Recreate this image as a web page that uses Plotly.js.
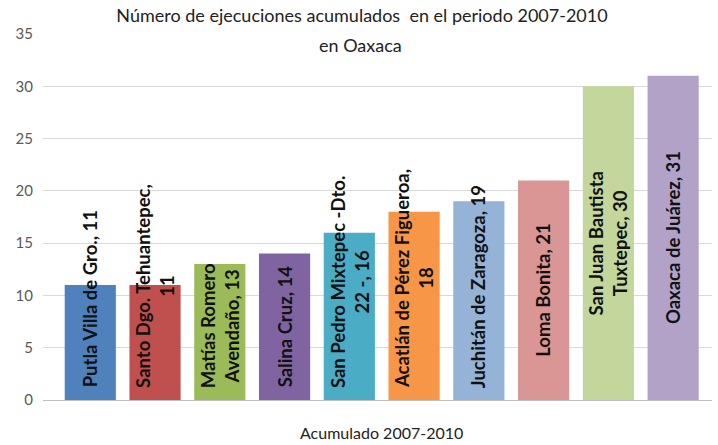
<!DOCTYPE html>
<html>
<head>
<meta charset="utf-8">
<script src="https://cdn.plot.ly/plotly-3.0.1.min.js"></script>
<style>html,body{margin:0;padding:0;background:#fff;}#chart{width:718px;height:445px;}</style>
</head>
<body>
<div id="chart"></div>
<script>
var categories = ["Putla Villa de Gro.", "Santo Dgo. Tehuantepec", "Matías Romero Avendaño", "Salina Cruz", "San Pedro Mixtepec -Dto. 22 -", "Acatlán de Pérez Figueroa", "Juchitán de Zaragoza", "Loma Bonita", "San Juan Bautista Tuxtepec", "Oaxaca de Juárez"];
var values = [11, 11, 13, 14, 16, 18, 19, 21, 30, 31];
var labels = ["Putla Villa de Gro., 11", "Santo Dgo. Tehuantepec,<br>11", "Matías Romero<br>Avendaño, 13", "Salina Cruz, 14", "San Pedro Mixtepec -Dto.<br>22 -, 16", "Acatlán de Pérez Figueroa,<br>18", "Juchitán de Zaragoza, 19", "Loma Bonita, 21", "San Juan Bautista<br>Tuxtepec, 30", "Oaxaca de Juárez, 31"];
var colors = ["#4F81BD", "#C0504D", "#9BBB59", "#8064A2", "#4BACC6", "#F79646", "#95B3D7", "#D99694", "#C3D69B", "#B3A2C7"];
var yTicks = [0, 5, 10, 15, 20, 25, 30, 35];
var titleLine1 = "Número de ejecuciones acumulados  en el periodo 2007-2010";
var titleLine2 = "en Oaxaca";
var xTitle = "Acumulado 2007-2010";

var W = 718, H = 445;
var margin = {l: 43, r: 6, t: 34, b: 45, pad: 0};
var yMax = 35;
var labelFont = {family: "Lato, sans-serif", size: 18.5, color: "#111", weight: "bold"};

// measure label length to keep rotated labels above the base
var cv = document.createElement("canvas").getContext("2d");
cv.font = "bold " + labelFont.size + "px Lato";
var plotH = H - margin.t - margin.b;
var pxPerUnit = plotH / yMax;
var annotations = labels.map(function (lab, i) {
  var lines = lab.split("<br>");
  var len = Math.max.apply(null, lines.map(function (s) { return cv.measureText(s).width; }));
  var centerPx = Math.max(values[i] / 2 * pxPerUnit, len / 2 + 12);
  return {
    x: categories[i], y: centerPx / pxPerUnit, xref: "x", yref: "y",
    text: lab, textangle: -90, showarrow: false, align: "center",
    xanchor: "center", yanchor: "middle", font: labelFont
  };
});
annotations.push({
  text: titleLine2, xref: "paper", yref: "paper", showarrow: false,
  x: (360 - margin.l) / (W - margin.l - margin.r), y: 1 + (margin.t - 45) / plotH,
  xanchor: "center", yanchor: "middle",
  font: {family: "Lato, sans-serif", size: 18, color: "#222"}
});
annotations.push({
  text: xTitle, xref: "paper", yref: "paper", showarrow: false,
  x: (381 - margin.l) / (W - margin.l - margin.r), y: -(432 - (H - margin.b)) / plotH,
  xanchor: "center", yanchor: "middle",
  font: {family: "Lato, sans-serif", size: 16, color: "#222"}
});

var trace = {
  type: "bar", x: categories, y: values,
  marker: {color: colors, line: {width: 0}},
  hoverinfo: "none"
};

var layout = {
  width: W, height: H, margin: margin,
  paper_bgcolor: "#fff", plot_bgcolor: "#fff",
  showlegend: false, bargap: 0.21,
  title: {
    text: titleLine1, x: 362 / W, xanchor: "center", xref: "container",
    y: 1 - 16 / H, yanchor: "middle", yref: "container",
    font: {family: "Lato, sans-serif", size: 18, color: "#222"}
  },
  xaxis: {
    type: "category", range: [-0.73, 9.6], showticklabels: false,
    showgrid: false, zeroline: false, showline: true, linecolor: "#bfbfbf", linewidth: 1,
    ticks: "", fixedrange: true
  },
  yaxis: {
    range: [0, yMax], tickvals: yTicks, ticktext: yTicks.map(String),
    showgrid: true, gridcolor: "#d9d9d9", gridwidth: 1, zeroline: false,
    showline: false, ticks: "", ticklabelstandoff: 9,
    tickfont: {family: "Lato, sans-serif", size: 15, color: "#595959"},
    fixedrange: true
  },
  annotations: annotations
};

Plotly.newPlot("chart", [trace], layout, {staticPlot: true, displayModeBar: false});
</script>
</body>
</html>
